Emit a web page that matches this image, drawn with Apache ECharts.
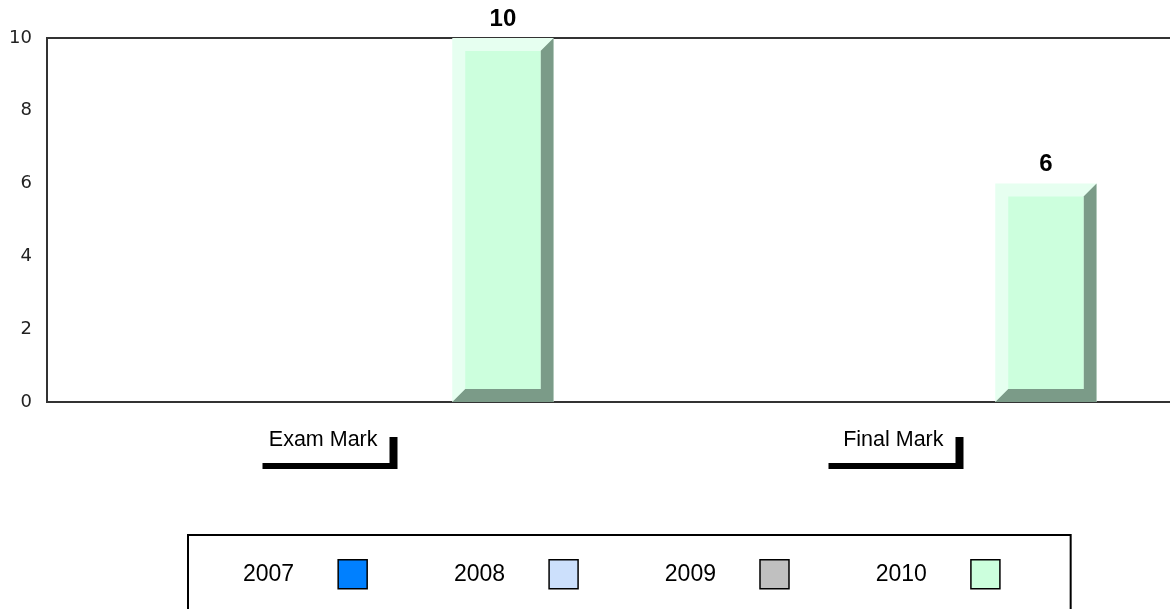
<!DOCTYPE html>
<html>
<head>
<meta charset="utf-8">
<script src="https://cdn.jsdelivr.net/npm/echarts@6/dist/echarts.min.js"></script>
<style>
html,body{margin:0;padding:0;background:#fff;}
#chart{width:1170px;height:609px;}
</style>
</head>
<body>
<div id="chart"></div>
<script>
const categories = ['Exam Mark', 'Final Mark'];
const seriesNames = ['2007', '2008', '2009', '2010'];
const values2007 = [null, null];
const values2008 = [null, null];
const values2009 = [null, null];
const values2010 = [10, 6];
const yTicks = [0, 2, 4, 6, 8, 10];

const colors = {
  '2007': '#0080ff',
  '2008': '#cce0fc',
  '2009': '#c0c0c0',
  '2010': '#ccffdd'
};

const chart = echarts.init(document.getElementById('chart'));

function bevelItem(params, api) {
  const v = api.value(1);
  const top = api.coord([api.value(0), v]);
  const base = api.coord([api.value(0), 0]);
  const catW = api.size([1, 0])[0];
  const bw = catW * 0.1865;
  const x0 = top[0] + bw;
  const x1 = x0 + bw;
  const y0 = top[1];
  const y1 = base[1];
  const d = 13;
  return {
    type: 'group',
    children: [
      { type: 'rect', shape: { x: x0, y: y0, width: x1 - x0, height: y1 - y0 }, style: { fill: '#e6fff0' } },
      { type: 'polygon', shape: { points: [[x1, y0], [x1, y1], [x0, y1], [x0 + d, y1 - d], [x1 - d, y1 - d], [x1 - d, y0 + d]] }, style: { fill: '#7b9b88' } },
      { type: 'rect', shape: { x: x0 + d, y: y0 + d, width: x1 - x0 - 2 * d, height: y1 - y0 - 2 * d }, style: { fill: '#ccffdd' } },
      { type: 'text', style: { text: String(v), x: (x0 + x1) / 2, y: y0 - 7, align: 'center', verticalAlign: 'bottom', font: 'bold 24px "Liberation Sans", Arial, sans-serif', fill: '#000' } }
    ]
  };
}

const option = {
  animation: false,
  backgroundColor: '#fff',
  grid: [
    { left: 47, top: 38, width: 1132, height: 364, show: true, borderColor: '#333', borderWidth: 2, backgroundColor: 'transparent', outerBoundsMode: 'none', containLabel: false },
    { left: 79.5, top: 38, width: 1086, height: 364, show: false, outerBoundsMode: 'none', containLabel: false }
  ],
  xAxis: [
    {
      type: 'category', gridIndex: 0, data: categories,
      axisLine: { show: false }, axisTick: { show: false }, splitLine: { show: false },
      axisLabel: {
        margin: 27,
        formatter: function (v) { return '{t|' + v + '}{v| }\n{h| }'; },
        rich: {
          t: { fontSize: 21.5, fontFamily: '"Liberation Sans", Arial, sans-serif', color: '#000', align: 'right', padding: [0, 12, 0, 0], lineHeight: 34, verticalAlign: 'top' },
          v: { width: 8, height: 26, backgroundColor: '#000', align: 'right', verticalAlign: 'bottom' },
          h: { width: 135, height: 6, backgroundColor: '#000' }
        }
      }
    },
    { type: 'category', gridIndex: 1, data: categories, show: false }
  ],
  yAxis: [
    {
      type: 'value', gridIndex: 0, min: yTicks[0], max: yTicks[yTicks.length - 1], interval: 2,
      axisLine: { show: false }, axisTick: { show: false }, splitLine: { show: false },
      axisLabel: { margin: 15, fontSize: 18, fontFamily: '"DejaVu Sans", Verdana, sans-serif', color: '#222' }
    },
    { type: 'value', gridIndex: 1, min: 0, max: 10, show: false }
  ],
  legend: {
    left: 188, top: 535,
    padding: [24, 70, 24, 55],
    borderColor: '#000', borderWidth: 2,
    align: 'right',
    itemWidth: 29, itemHeight: 29, itemGap: 86,
    selectedMode: false,
    textStyle: { fontSize: 23, fontFamily: '"Liberation Sans", Arial, sans-serif', color: '#000', padding: [0, 39, 0, 0] },
    data: seriesNames.map(n => ({ name: n, icon: 'rect', itemStyle: { color: colors[n], borderColor: '#000', borderWidth: 1.5 } }))
  },
  series: [
    { name: '2007', type: 'bar', xAxisIndex: 1, yAxisIndex: 1, data: values2007, itemStyle: { color: colors['2007'] } },
    { name: '2008', type: 'bar', xAxisIndex: 1, yAxisIndex: 1, data: values2008, itemStyle: { color: colors['2008'] } },
    { name: '2009', type: 'bar', xAxisIndex: 1, yAxisIndex: 1, data: values2009, itemStyle: { color: colors['2009'] } },
    {
      name: '2010', type: 'custom', xAxisIndex: 1, yAxisIndex: 1,
      itemStyle: { color: colors['2010'] },
      renderItem: bevelItem,
      clip: false,
      encode: { x: 0, y: 1 },
      data: categories.map((c, i) => [c, values2010[i]])
    }
  ]
};
chart.setOption(option);
</script>
</body>
</html>
